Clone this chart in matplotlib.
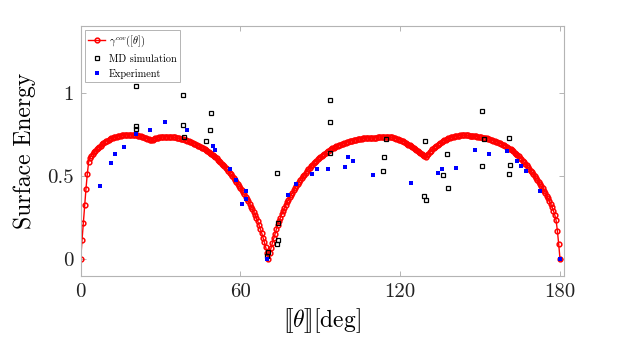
import numpy as np
import matplotlib
matplotlib.use('Agg')
from matplotlib import pyplot as plt

# covariant surface energy, sampled every 0.5 deg from 0 to 180
gamma_cov = [
    0.000, 0.115, 0.220, 0.325, 0.425, 0.515, 0.585, 0.610, 0.622, 0.633,
    0.643, 0.652, 0.660, 0.668, 0.676, 0.683, 0.690, 0.696, 0.702, 0.708,
    0.713, 0.718, 0.722, 0.726, 0.729, 0.732, 0.735, 0.737, 0.739, 0.741,
    0.743, 0.744, 0.745, 0.746, 0.747, 0.748, 0.748, 0.748, 0.748, 0.748,
    0.747, 0.746, 0.745, 0.743, 0.741, 0.739, 0.736, 0.734, 0.731, 0.728,
    0.725, 0.722, 0.718, 0.714, 0.719, 0.723, 0.726, 0.728, 0.730, 0.732,
    0.733, 0.734, 0.735, 0.736, 0.736, 0.736, 0.736, 0.736, 0.735, 0.734,
    0.733, 0.732, 0.730, 0.728, 0.726, 0.724, 0.722, 0.720, 0.717, 0.715,
    0.712, 0.709, 0.706, 0.703, 0.699, 0.695, 0.691, 0.687, 0.683, 0.679,
    0.675, 0.671, 0.666, 0.661, 0.656, 0.651, 0.645, 0.639, 0.633, 0.627,
    0.620, 0.613, 0.606, 0.599, 0.591, 0.583, 0.575, 0.567, 0.558, 0.549,
    0.540, 0.531, 0.521, 0.511, 0.500, 0.489, 0.478, 0.467, 0.455, 0.443,
    0.430, 0.417, 0.404, 0.391, 0.377, 0.363, 0.348, 0.333, 0.317, 0.301,
    0.284, 0.266, 0.247, 0.228, 0.205, 0.182, 0.157, 0.130, 0.102, 0.072,
    0.040, 0.004, 0.040, 0.070, 0.099, 0.127, 0.155, 0.181, 0.206, 0.229,
    0.251, 0.272, 0.292, 0.310, 0.327, 0.343, 0.358, 0.373, 0.387, 0.401,
    0.414, 0.427, 0.440, 0.452, 0.464, 0.476, 0.487, 0.498, 0.509, 0.520,
    0.530, 0.540, 0.550, 0.559, 0.568, 0.577, 0.585, 0.593, 0.601, 0.608,
    0.615, 0.622, 0.628, 0.634, 0.640, 0.646, 0.651, 0.656, 0.661, 0.666,
    0.670, 0.674, 0.678, 0.682, 0.686, 0.689, 0.692, 0.695, 0.698, 0.701,
    0.704, 0.706, 0.709, 0.711, 0.713, 0.715, 0.717, 0.719, 0.721, 0.722,
    0.724, 0.725, 0.726, 0.727, 0.728, 0.729, 0.729, 0.729, 0.729, 0.728,
    0.726, 0.729, 0.731, 0.733, 0.734, 0.735, 0.736, 0.737, 0.737, 0.737,
    0.737, 0.736, 0.735, 0.734, 0.732, 0.730, 0.728, 0.725, 0.722, 0.719,
    0.716, 0.712, 0.708, 0.704, 0.699, 0.694, 0.689, 0.684, 0.678, 0.672,
    0.666, 0.661, 0.656, 0.650, 0.644, 0.638, 0.633, 0.627, 0.621, 0.615,
    0.624, 0.634, 0.643, 0.652, 0.660, 0.668, 0.675, 0.682, 0.689, 0.695,
    0.701, 0.706, 0.711, 0.715, 0.719, 0.723, 0.726, 0.729, 0.732, 0.735,
    0.737, 0.739, 0.741, 0.742, 0.743, 0.744, 0.745, 0.745, 0.745, 0.745,
    0.744, 0.744, 0.743, 0.742, 0.741, 0.740, 0.739, 0.738, 0.737, 0.736,
    0.734, 0.733, 0.731, 0.730, 0.728, 0.726, 0.724, 0.721, 0.719, 0.716,
    0.713, 0.710, 0.707, 0.704, 0.700, 0.696, 0.692, 0.688, 0.684, 0.680,
    0.675, 0.670, 0.665, 0.660, 0.654, 0.648, 0.641, 0.634, 0.627, 0.619,
    0.611, 0.602, 0.593, 0.584, 0.574, 0.564, 0.554, 0.544, 0.533, 0.522,
    0.511, 0.500, 0.488, 0.476, 0.464, 0.452, 0.439, 0.426, 0.412, 0.398,
    0.383, 0.367, 0.350, 0.332, 0.313, 0.292, 0.268, 0.235, 0.172, 0.090,
    0.000,
]
theta_cov = np.linspace(0, 180, len(gamma_cov))

# MD simulation
md_theta = [20.6, 20.6, 20.6, 38.4, 38.4, 38.8, 47.1, 48.4, 49.1, 73.6,
            74.1, 74.1, 73.7, 70.2, 70.1, 93.6, 93.6, 93.5, 114.5, 114.0,
            113.6, 129.4, 128.9, 129.6, 136.2, 138.0, 137.6, 150.6, 151.6, 150.6,
            160.8, 161.1, 160.9]
md_energy = [1.040, 0.800, 0.780, 0.985, 0.808, 0.736, 0.712, 0.778, 0.877, 0.519,
             0.218, 0.114, 0.090, 0.047, 0.022, 0.955, 0.823, 0.639, 0.721, 0.617,
             0.529, 0.713, 0.379, 0.354, 0.509, 0.428, 0.631, 0.893, 0.720, 0.560,
             0.726, 0.567, 0.513]

# Experiment
exp_theta = [7.3, 11.3, 12.7, 16.4, 20.7, 26.0, 31.7, 39.8, 49.7, 50.6,
             55.9, 58.5, 62.2, 62.2, 60.7, 70.1, 78.0, 81.0, 87.0, 88.7,
             93.0, 99.1, 100.2, 102.2, 109.6, 124.1, 134.0, 135.8, 141.0, 148.2,
             153.3, 159.9, 163.8, 165.5, 167.1, 172.6, 179.8]
exp_energy = [0.438, 0.578, 0.631, 0.675, 0.755, 0.778, 0.826, 0.777, 0.680, 0.654,
              0.543, 0.476, 0.408, 0.365, 0.332, 0.000, 0.386, 0.452, 0.510, 0.540,
              0.541, 0.553, 0.617, 0.593, 0.507, 0.459, 0.517, 0.540, 0.551, 0.657,
              0.634, 0.649, 0.593, 0.563, 0.531, 0.409, 0.005]

x_ticks = [0, 60, 120, 180]
y_ticks = [0, 0.5, 1]
y_tick_labels = ['0', '0.5', '1']


def main():
    plt.rcParams['font.family'] = ['cmr10', 'DejaVu Serif']
    plt.rcParams['mathtext.fontset'] = 'cm'
    plt.rcParams['axes.unicode_minus'] = False

    fig = plt.figure(figsize=(6.23, 3.40), dpi=100)
    ax = fig.add_axes([0.1295, 0.188, 0.7763, 0.7356])

    ax.plot(theta_cov, gamma_cov, '-o', color='r', lw=1.0, ms=3.4,
            mfc='none', mew=1.1, label=r'$\gamma^{cov}([\theta])$')
    ax.plot(md_theta, md_energy, 's', color='k', ms=3.3, mfc='none',
            mew=0.9, label='MD simulation')
    ax.plot(exp_theta, exp_energy, 's', color='b', ms=3.3, mew=0,
            label='Experiment')

    ax.set_xlim(0, 181.6)
    ax.set_ylim(-0.1, 1.4)
    ax.set_xticks(x_ticks)
    ax.set_xticklabels([str(t) for t in x_ticks])
    ax.set_yticks(y_ticks)
    ax.set_yticklabels(y_tick_labels)

    gray = '#b4b4b4'
    for s in ax.spines.values():
        s.set_color(gray)
        s.set_linewidth(0.8)
    ax.tick_params(direction='in', length=3.5, width=0.7, color=gray,
                   top=True, right=True, labelsize=15, labelcolor='#222222',
                   pad=5)

    ax.set_xlabel(r'$[\![\theta]\!][\mathrm{deg}]$', fontsize=17, labelpad=4)
    ax.set_ylabel('Surface Energy', fontsize=17, labelpad=8)

    leg = ax.legend(loc='upper left', fontsize=7.4, frameon=True,
                    fancybox=False, framealpha=1, edgecolor=gray,
                    handlelength=1.6, handletextpad=0.4, borderpad=0.35,
                    labelspacing=0.5, borderaxespad=0.4)
    leg.get_frame().set_linewidth(0.7)

    fig.savefig('out.png', dpi=100)


if __name__ == "__main__":
    main()
